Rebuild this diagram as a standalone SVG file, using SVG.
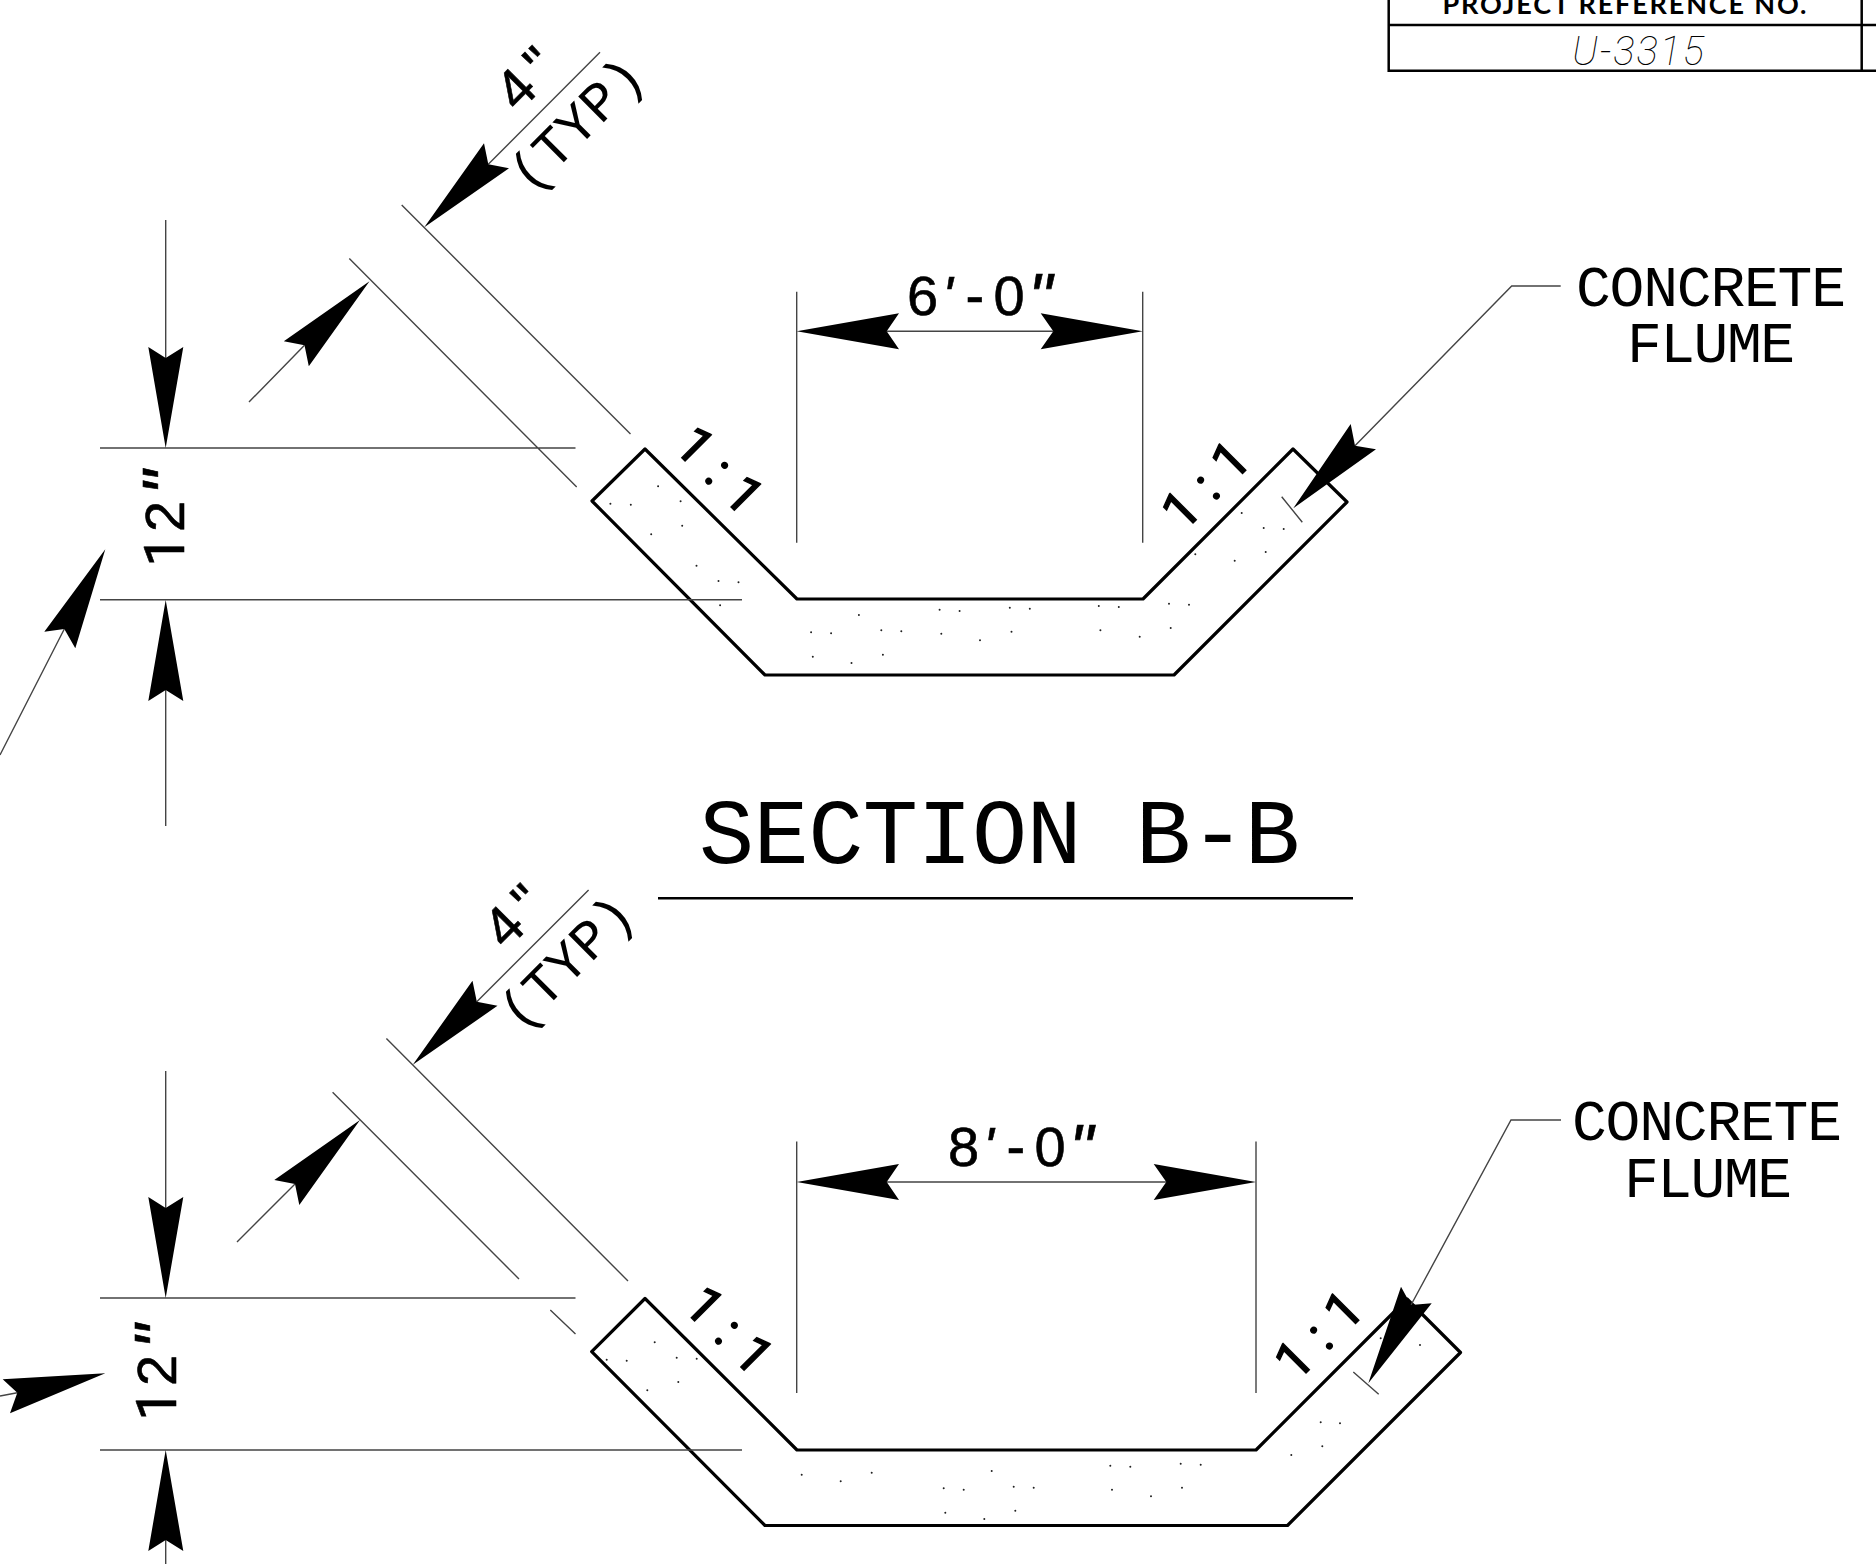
<svg xmlns="http://www.w3.org/2000/svg" width="1876" height="1564" viewBox="0 0 1876 1564">
<style>
.t{font-family:"Liberation Sans",Arial,sans-serif;font-size:56px;fill:#000;stroke:#000;stroke-width:.6}
.u{font-family:Roboto,"Liberation Sans",Arial,sans-serif}
.q{font-size:68px}
.m{font-family:"Liberation Mono","Courier New",monospace;fill:#000}
.i{font-style:italic}
.r{font-family:Roboto,"Liberation Sans",Arial,sans-serif;font-size:52px;letter-spacing:14px;fill:#000;stroke:#000;stroke-width:1.4}
.o{fill:#fff;stroke:#000;stroke-width:3.2;stroke-linejoin:round}
.l{fill:none;stroke:#444;stroke-width:1.4}
.b{fill:none;stroke:#000;stroke-width:2.5}
.a{fill:#000;stroke:none}
.d{fill:none;stroke:#222;stroke-width:2;stroke-linecap:round}
</style>
<rect width="1876" height="1564" fill="#fff"/>
<g id="title-block">
<path class="b" d="M1388.7 0V70.7H1876M1388.7 25H1876M1861.7 0V70.7"/>
<text x="1442.5" y="14" font-family="Lato,'Liberation Sans',Arial,sans-serif" font-size="27" font-weight="700" textLength="364" lengthAdjust="spacing">PROJECT REFERENCE NO.</text>
<text x="1572" y="65" font-family="Roboto,'Liberation Sans',sans-serif" font-size="40" font-weight="100" font-style="italic" textLength="132" lengthAdjust="spacing">U-3315</text>
</g>
<g id="section-b-b-flume">
<polygon class="o" points="645,449 592,501 765,675 1174,675 1347,502 1293,449 1143,599 797,599"/>
<path class="d" d="M658.1 486.3h0M610.4 503.7h0M630.8 504.7h0M680.6 501.3h0M682.2 525.7h0M651.2 534.3h0M696.5 565.7h0M718.5 581h0M738.5 582.3h0M720.1 605.3h0M858.9 615h0M811.1 632.3h0M831.1 633.3h0M881.3 630.3h0M901.3 631.3h0M812.8 656.7h0M851.5 663h0M882.9 654.7h0M939.6 609.7h0M959.6 611h0M1009.8 607.7h0M1029.8 608.7h0M941.3 633.7h0M980 640.3h0M1011.5 631.7h0M1098.8 606h0M1118.8 607h0M1100.4 630.3h0M1241.7 513h0M1263.7 528h0M1283.7 529h0M1195.3 554.3h0M1234.7 560.7h0M1265.7 552h0M1169 603.7h0M1189 604.7h0M1170.7 628h0M1139.7 636.7h0"/>
</g>
<g id="lower-section-flume">
<polygon class="o" points="645,1298.5 591.7,1351.7 765,1525.5 1287.5,1525.5 1460.5,1352.5 1407,1299 1256,1450 797,1450"/>
<path class="d" d="M654.7 1342.3h0M606.7 1359.7h0M626.7 1360.7h0M676.7 1357.7h0M696.7 1358.7h0M678.3 1382h0M647.3 1390.3h0M801.7 1474.7h0M840.7 1481.3h0M871.7 1472.7h0M991.7 1471h0M943.7 1488.3h0M963.7 1489.7h0M1013.7 1486.7h0M1033.7 1487.7h0M945.3 1512.7h0M984.3 1519h0M1015.3 1510.7h0M1110.3 1465.7h0M1130.3 1466.7h0M1180.7 1463.7h0M1200.7 1464.7h0M1112 1489.7h0M1151 1496.3h0M1182 1487.7h0M1291.3 1455h0M1320.7 1422.3h0M1322.3 1446.3h0M1340 1423.3h0M1380.7 1338.3h0M1420 1345h0"/>
</g>
<g id="connectors">
<path class="l" d="M401.7 205L630.5 434M349.3 258.4L576.7 487M600 52.3L488.3 164.3M249 402L304.5 345.3M100 448H575.5M100 599.7H742M165.7 220V358M165.7 690V826M64.3 629L0 755M796.7 291.7V542.7M1142.7 291.7V542.7M886.7 331.3H1053.3M1560.7 286H1511.7L1355 445.7M1281.7 496.7L1302.3 522.3"/>
<path class="l" d="M386.4 1038.5L628 1281M332.6 1092.3L519 1279M550.3 1310L575.5 1334M588.6 890L476.8 1001.8M237 1242L295 1184M100 1298H575.5M100 1450H742M165.7 1071V1208M165.7 1540V1564M17.3 1392.7L0 1396M796.7 1141.4V1393M1256 1141.4V1393M886.7 1182H1166.3M1561 1120H1511L1411 1305M1353.3 1372L1378.7 1394.3"/>
<path class="b" d="M658 898.3H1353"/>
<g id="arrowheads">
<polygon class="a" points="424.3,227.3 484,143.3 488.3,164.3 509,168.3"/>
<polygon class="a" points="369.5,281.3 283.8,341.3 304.5,345.3 308.8,366.3"/>
<polygon class="a" points="165.7,448 148.3,347 165.7,358 183.3,347"/>
<polygon class="a" points="165.7,600 148.3,701 165.7,690 183.3,701"/>
<polygon class="a" points="105.3,549.3 44.3,631.7 64.3,629 75.3,648.3"/>
<polygon class="a" points="796.7,331.3 899,313.3 886.7,331.3 899,349.3"/>
<polygon class="a" points="1142.7,331.3 1040.7,313.3 1053.3,331.3 1040.7,349.3"/>
<polygon class="a" points="1293.3,508.3 1350.7,424 1355,445.7 1376,449.3"/>
<polygon class="a" points="412.8,1064.8 472.5,980.8 476.8,1001.8 497.5,1005.8"/>
<polygon class="a" points="360,1120 274.3,1180 295,1184 299.3,1205"/>
<polygon class="a" points="165.7,1298 148.3,1197 165.7,1208 183.3,1197"/>
<polygon class="a" points="165.7,1450 148.3,1551 165.7,1540 183.3,1551"/>
<polygon class="a" points="105.3,1373.3 2.7,1379.3 17.3,1392.7 10,1413.3"/>
<polygon class="a" points="796.7,1182 899,1164 886.7,1182 899,1200"/>
<polygon class="a" points="1256,1182 1153.7,1164 1166.3,1182 1153.7,1200"/>
<polygon class="a" points="1368.3,1383.3 1401,1286.7 1411,1305 1431.7,1303.3"/>
</g>
</g>
<g id="labels">
<text class="m" x="699" y="862.5" font-size="92" textLength="601" lengthAdjust="spacing" style="white-space:pre">SECTION B-B</text>
<text class="m" x="1711" y="305.5" font-size="58" text-anchor="middle" textLength="270" lengthAdjust="spacing">CONCRETE</text>
<text class="m" x="1711" y="362" font-size="58" text-anchor="middle" textLength="168" lengthAdjust="spacing">FLUME</text>
<text class="m" x="1707" y="1140" font-size="58" text-anchor="middle" textLength="270" lengthAdjust="spacing">CONCRETE</text>
<text class="m" x="1708" y="1197" font-size="58" text-anchor="middle" textLength="168" lengthAdjust="spacing">FLUME</text>
<text class="t" y="315"><tspan x="907">6</tspan><tspan x="942" class="i">'</tspan><tspan x="965.5">-</tspan><tspan x="993.6">0</tspan><tspan x="1028" y="321" class="i q">"</tspan></text>
<text class="t" y="1166"><tspan x="948">8</tspan><tspan x="983" class="i">'</tspan><tspan x="1006.5">-</tspan><tspan x="1034.6">0</tspan><tspan x="1069" y="1172" class="i q">"</tspan></text>
<text class="t" transform="translate(184 561) rotate(-90)"><tspan class="u" x="-5.7" y="0">1</tspan><tspan x="29">2</tspan><tspan x="66" y="6" class="i q">"</tspan></text>
<text class="t" transform="translate(176 1415) rotate(-90)"><tspan class="u" x="-5.7" y="0">1</tspan><tspan x="29">2</tspan><tspan x="66" y="6" class="i q">"</tspan></text>
<text class="t" transform="translate(518 113.5) rotate(-45)"><tspan x="0" y="0">4</tspan><tspan x="41">"</tspan></text>
<text class="t" transform="translate(506 951) rotate(-45)"><tspan x="0" y="0">4</tspan><tspan x="41">"</tspan></text>
<text class="m" font-size="55" text-anchor="middle" transform="translate(589 137) rotate(-45)">(TYP)</text>
<text class="m" font-size="55" text-anchor="middle" transform="translate(579 975) rotate(-45)">(TYP)</text>
<text class="r" transform="translate(672 448) rotate(45)">1:1</text>
<text class="r" transform="translate(1183.3 532.7) rotate(-45)">1:1</text>
<text class="r" transform="translate(681.6 1308) rotate(45)">1:1</text>
<text class="r" transform="translate(1296.3 1382.7) rotate(-45)">1:1</text>
</g>
</svg>
